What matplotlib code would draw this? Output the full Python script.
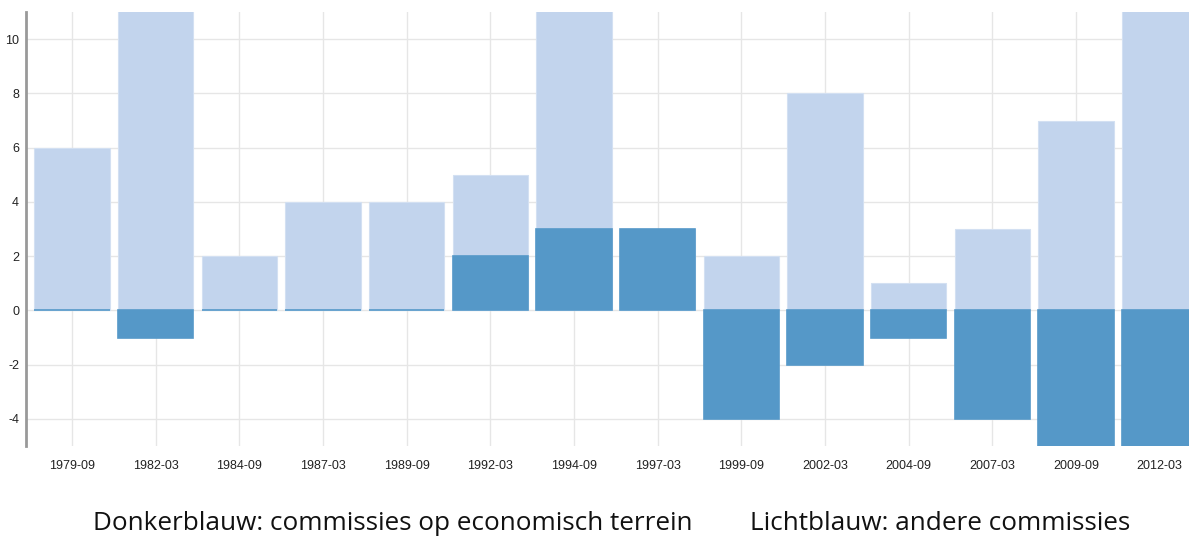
import matplotlib
matplotlib.use('Agg')
import matplotlib.pyplot as plt

plt.rcParams['axes.unicode_minus'] = False

# meeting dates (x categories)
dates = ['1979-09', '1982-03', '1984-09', '1987-03', '1989-09', '1992-03', '1994-09',
         '1997-03', '1999-09', '2002-03', '2004-09', '2007-03', '2009-09', '2012-03']
# lichtblauw: andere commissies
other = [6, 12, 2, 4, 4, 5, 12, 3, 2, 8, 1, 3, 7, 12]
# donkerblauw: commissies op economisch terrein
economic = [0, -1, 0, 0, 0, 2, 3, 3, -4, -2, -1, -4, -5, -5]

LIGHT = '#c2d4ed'
DARK = '#5598c8'

fig = plt.figure(figsize=(11.89, 5.37), dpi=100)
ax = fig.add_axes([26 / 1189, 91 / 537, 1 - 26 / 1189, (446 - 12) / 537])

x = range(len(dates))
ax.bar(x, other, width=0.9, color=LIGHT, edgecolor='#d3e0f2', linewidth=0.8, zorder=2)
ax.bar(x, economic, width=0.9, color=DARK, edgecolor=DARK, linewidth=1.2, zorder=3)

ax.set_xlim(-0.55, 13.35)
ax.set_ylim(-5, 11)
ax.set_yticks(range(-4, 11, 2))
ax.set_xticks(list(x))
ax.set_xticklabels(dates)

ax.grid(True, color='#e6e6e6', linewidth=1, zorder=0)
ax.set_axisbelow(True)
for s in ['top', 'right', 'bottom']:
    ax.spines[s].set_visible(False)
ax.spines['left'].set_color('#999999')
ax.spines['left'].set_linewidth(2)
ax.tick_params(length=0, labelsize=9, colors='#222222')
ax.tick_params(axis='x', pad=10)
ax.tick_params(axis='y', pad=5)
for lab in ax.get_xticklabels() + ax.get_yticklabels():
    lab.set_fontfamily('Liberation Sans')

fig.text(393 / 1189, 14 / 537, 'Donkerblauw: commissies op economisch terrein',
         ha='center', va='center', fontsize=18.8, family='Open Sans', color='#111111')
fig.text(940 / 1189, 14 / 537, 'Lichtblauw: andere commissies',
         ha='center', va='center', fontsize=18.8, family='Open Sans', color='#111111')

fig.savefig('out.png', dpi=100)
